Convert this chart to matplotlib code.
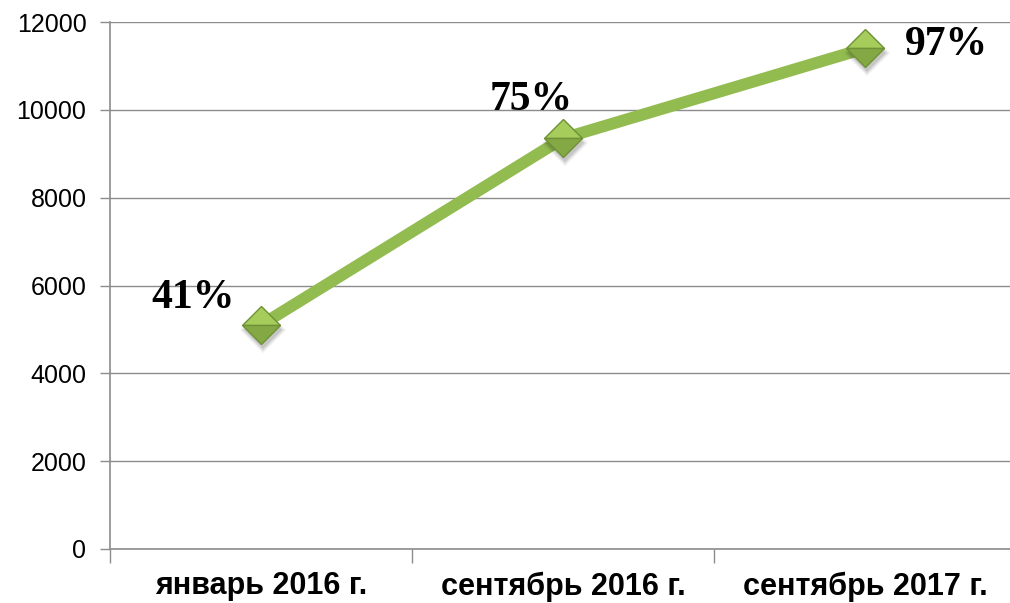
import numpy as np
import matplotlib.pyplot as plt

# data
periods = ["январь 2016 г.", "сентябрь 2016 г.", "сентябрь 2017 г."]
values = [5100, 9350, 11400]
pct_labels = ["41%", "75%", "97%"]

yticks = [0, 2000, 4000, 6000, 8000, 10000, 12000]

line_green = "#92BB50"
grid_gray = "#8C8C8C"

fig = plt.figure(figsize=(10.10, 6.03), dpi=100)
# plot area runs a bit past the right edge, like the original slide
ax = fig.add_axes([110 / 1010, 1 - 549 / 603, 906 / 1010, 527 / 603])

x = np.arange(len(periods)) + 0.5
ax.plot(x, values, color=line_green, lw=8.5, solid_capstyle="butt", zorder=3)
# soft shadow under markers
for grow, a in [(4, 0.06), (2, 0.08), (0, 0.10)]:
    ax.plot(x + 0.006, np.array(values) - 110, ls="none", marker="D",
            ms=19 + grow, color="#000000", alpha=a, mew=0, zorder=3.5)
ax.plot(x, values, ls="none", marker="D", ms=19, fillstyle="top",
        markerfacecolor="#A6CD5C", markerfacecoloralt="#84A944",
        markeredgecolor="#6F9136", mew=1.0, zorder=4)

# percentage labels
offsets = [(-68, 27), (-32, 38), (81, 3)]
for xi, v, lab, (dx, dy) in zip(x, values, pct_labels, offsets):
    ax.annotate(lab, (xi, v), xytext=(dx, dy), textcoords="offset pixels",
                ha="center", va="center", fontsize=30, fontweight="bold",
                family="Liberation Serif", zorder=5)

ax.set_xlim(0, 3)
ax.set_ylim(0, 12000)
ax.set_yticks(yticks)
ax.set_yticklabels([str(t) for t in yticks], family="Liberation Sans", fontsize=18)
ax.yaxis.grid(True, color=grid_gray, lw=1)
ax.set_axisbelow(True)

ax.set_xticks([0, 1, 2, 3])
ax.set_xticklabels([])
ax.set_xticks(x, minor=True)
ax.set_xticklabels(periods, minor=True, family="Liberation Sans",
                   fontsize=22, fontweight="bold")
ax.tick_params(axis="x", which="major", length=10, color=grid_gray, width=1)
ax.tick_params(axis="x", which="minor", length=0, pad=16)
ax.tick_params(axis="y", length=7, color=grid_gray, width=1, pad=10)

for s in ["top", "right"]:
    ax.spines[s].set_visible(False)
for s in ["left", "bottom"]:
    ax.spines[s].set_color(grid_gray)
    ax.spines[s].set_linewidth(1.2)

fig.savefig("out.png", dpi=100)
